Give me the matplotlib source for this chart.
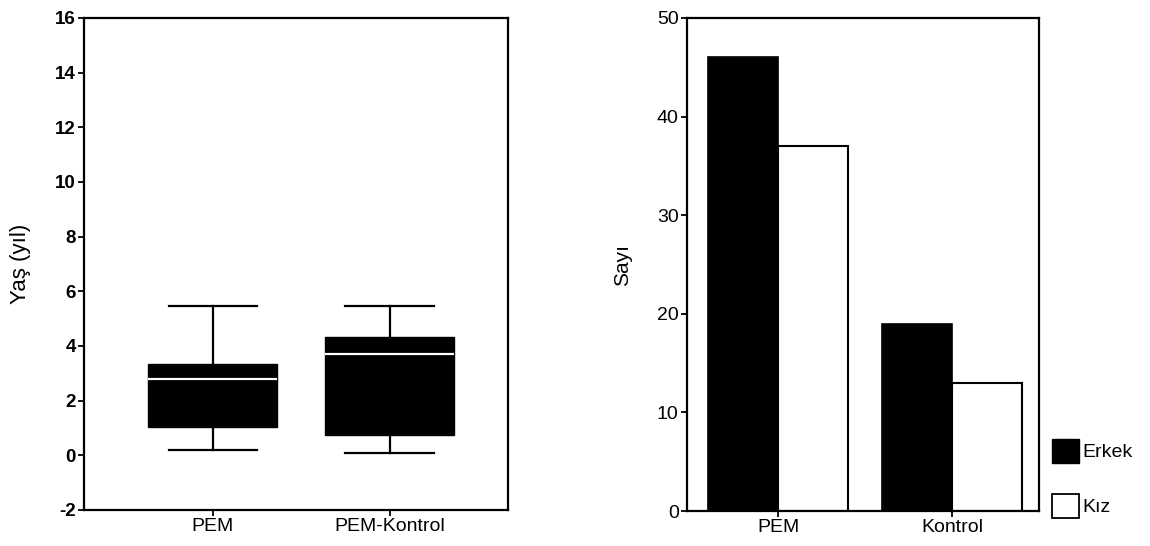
import matplotlib
matplotlib.use("Agg")
import matplotlib.pyplot as plt
from matplotlib.patches import Patch

plt.rcParams['font.family'] = ['Liberation Sans', 'DejaVu Sans']

# Left panel: age box plot
box_groups = ["PEM", "PEM-Kontrol"]
box_q1 = [1.03, 0.73]
box_med = [2.78, 3.70]
box_q3 = [3.33, 4.32]
box_whislo = [0.18, 0.07]
box_whishi = [5.46, 5.46]
age_ticks = [-2, 0, 2, 4, 6, 8, 10, 12, 14, 16]

# Right panel: counts by sex
bar_groups = ["PEM", "Kontrol"]
erkek = [46, 19]
kiz = [37, 13]
count_ticks = [0, 10, 20, 30, 40, 50]

W, H = 1150, 546
fig = plt.figure(figsize=(W / 100, H / 100), dpi=100)

FS = 14
LW = 1.6

# ---------- left ----------
ax1 = fig.add_axes([84 / W, 1 - 510 / H, 424 / W, 492 / H])
stats = []
for i, g in enumerate(box_groups):
    stats.append(dict(label=g, med=box_med[i], q1=box_q1[i], q3=box_q3[i],
                      whislo=box_whislo[i], whishi=box_whishi[i], fliers=[]))
ax1.bxp(stats, positions=[1, 2], widths=0.73, patch_artist=True, showfliers=False,
        boxprops=dict(facecolor='black', edgecolor='black', linewidth=1),
        medianprops=dict(color='white', linewidth=1.6),
        whiskerprops=dict(color='black', linewidth=1.6),
        capprops=dict(color='black', linewidth=1.6),
        capwidths=0.5)
ax1.set_xlim(0.27, 2.67)
ax1.set_ylim(-2, 16)
ax1.set_yticks(age_ticks)
ax1.set_yticklabels([str(t) for t in age_ticks], fontsize=13.5, fontweight='bold')
ax1.set_xticks([1, 2])
ax1.set_xticklabels(box_groups, fontsize=FS)
ax1.set_ylabel("Yaş (yıl)", fontsize=16)
ax1.yaxis.set_label_coords(-0.125, 0.5)
for s in ax1.spines.values():
    s.set_linewidth(LW)
ax1.tick_params(direction='out', length=4, width=1.3, pad=2)

# ---------- right ----------
ax2 = fig.add_axes([687 / W, 1 - 511 / H, 352 / W, 493 / H])
x = list(range(len(bar_groups)))
bw = 0.40
ax2.bar([xi - bw / 2 for xi in x], erkek, width=bw, color='black', edgecolor='black',
        linewidth=1.2, label='Erkek')
ax2.bar([xi + bw / 2 for xi in x], kiz, width=bw, color='white', edgecolor='black',
        linewidth=1.5, label='Kız')
ax2.set_xlim(-0.523, 1.5)
ax2.set_ylim(0, 50)
ax2.set_yticks(count_ticks)
ax2.set_yticklabels([str(t) for t in count_ticks], fontsize=FS)
ax2.set_xticks(x)
ax2.set_xticklabels(bar_groups, fontsize=FS)
ax2.set_ylabel("Sayı", fontsize=15)
ax2.yaxis.set_label_coords(-0.155, 0.5)
for s in ax2.spines.values():
    s.set_linewidth(LW)
ax2.tick_params(direction='out', length=4, width=1.3, pad=2)

handles = [Patch(facecolor='black', edgecolor='black', label='Erkek'),
           Patch(facecolor='white', edgecolor='black', linewidth=1.3, label='Kız')]
fig.legend(handles=handles, loc='upper left',
           bbox_to_anchor=(1052 / W, 1 - 439 / H), frameon=False, fontsize=FS,
           borderpad=0, borderaxespad=0, handlelength=1.4, handleheight=1.5,
           handletextpad=0.15, labelspacing=1.6)

fig.savefig("out.png", dpi=100)
